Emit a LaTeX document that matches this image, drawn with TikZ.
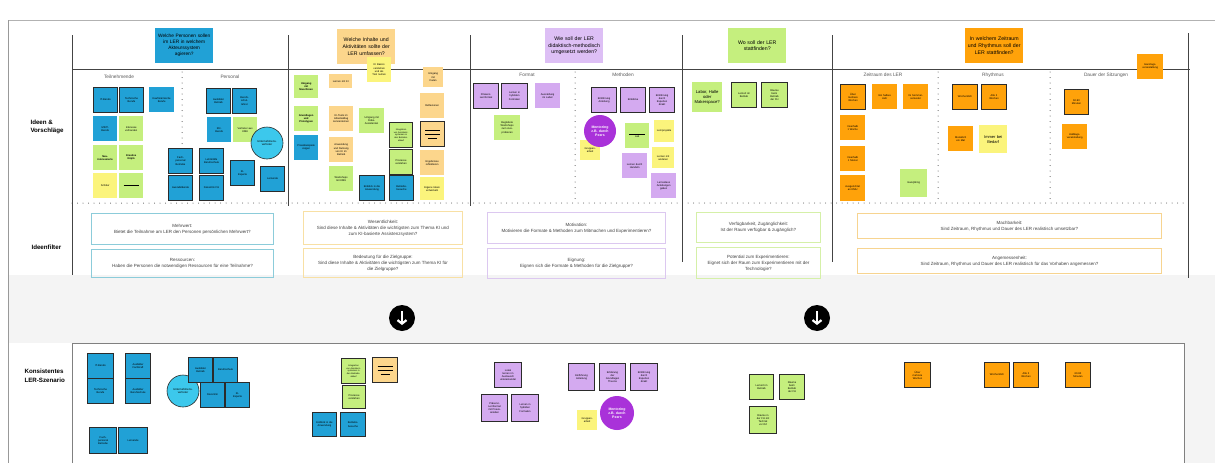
\documentclass[tikz,border=0pt]{standalone}
\usepackage{fontspec}
\setmainfont{Liberation Sans}
\usetikzlibrary{arrows.meta}
\definecolor{ideablue}{HTML}{21A1D6}
\definecolor{ideacyan}{HTML}{3CC8EC}
\definecolor{ideagreen}{HTML}{C5EF7E}
\definecolor{ideayellow}{HTML}{FBF47C}
\definecolor{idealight}{HTML}{FCD68C}
\definecolor{ideaorange}{HTML}{FFA20A}
\definecolor{ideapurple}{HTML}{D4AAF0}
\definecolor{headpurple}{HTML}{DDBFF5}
\definecolor{ideaviolet}{HTML}{A932D9}
\definecolor{noteedge}{HTML}{2B2B2B}
\definecolor{boardgray}{HTML}{444444}
\definecolor{bandgray}{HTML}{F4F4F4}
\definecolor{fblue}{HTML}{8CCCDA}
\definecolor{fsand}{HTML}{F8E0A4}
\definecolor{fpurple}{HTML}{DCC8F0}
\definecolor{fgreen}{HTML}{D5F0A8}
\definecolor{forange}{HTML}{F7D490}
\begin{document}
\begin{tikzpicture}[x=1pt,y=-1pt,
  note/.style={anchor=north west,minimum width=25pt,minimum height=25pt,text width=22pt,inner sep=0.5pt,align=center,font=\fontsize{2.6}{3.1}\selectfont},
  edged/.style={draw=noteedge,line width=1.1pt},
  blob/.style={circle,minimum size=32pt,inner sep=0pt,text width=24pt,align=center,draw=noteedge,line width=0.6pt,font=\fontsize{2.8}{3.3}\selectfont},
  header/.style={anchor=north west,minimum width=58pt,minimum height=35pt,text width=56pt,inner sep=0.5pt,align=center,font=\fontsize{5.2}{6.6}\selectfont},
  filterbox/.style={anchor=north west,line width=0.9pt,inner sep=0.5pt,align=center,font=\fontsize{4.5}{6}\selectfont,text=black!75},
  rowlabel/.style={anchor=west,align=left,font=\fontsize{6.2}{8.5}\selectfont\bfseries},
  sublabel/.style={font=\fontsize{4.8}{6}\selectfont,text=black!65},
  boardline/.style={draw=boardgray,line width=0.9pt},
  divider/.style={draw=boardgray,line width=1pt,dash pattern=on 0pt off 5.5pt,line cap=round}]
\useasboundingbox (0,0) rectangle (1215,463);
\fill[white] (0,0) rectangle (1215,463);
\fill[bandgray] (8,275) rectangle (1215,343);
\fill[bandgray] (1184,343) rectangle (1215,463);
\draw[draw=black!30,line width=0.8pt] (8,20) -- (1215,20);
\draw[draw=black!40,line width=1pt] (8,20) -- (8,463);
% board lines
\draw[boardline] (72,35) -- (72,275);
\draw[boardline] (288,35) -- (288,206);
\draw[boardline] (470,35) -- (470,206);
\draw[boardline] (682,35) -- (682,262);
\draw[boardline] (832,35) -- (832,262);
\draw[boardline] (1188,33) -- (1188,278);
\draw[boardline] (72,69) -- (1190,69);
\draw[divider] (72,203) -- (1188,203);
\draw[divider] (182,72) -- (182,203);
\draw[divider] (575,72) -- (575,203);
\draw[divider] (938,72) -- (938,203);
\draw[divider] (1050,72) -- (1050,203);
\draw[draw=black!50,line width=0.9pt] (72,463) -- (72,343) -- (1184,343) -- (1184,463);

% row labels
\node[rowlabel] (rowIdeas) at (27,127) {Ideen \&\\Vorschläge};
\node[rowlabel] (rowFilter) at (28,247) {Ideenfilter};
\node[rowlabel] (rowScene) at (21,376) {Konsistentes\\LER-Szenario};

% headers
\node[header,fill=ideablue,font=\fontsize{4.8}{6}\selectfont] (hWho) at (155,28) {Welche Personen sollen\\im LER in welchem\\Akteurssystem\\agieren?};
\node[header,fill=idealight] (hWhat) at (337,29) {Welche Inhalte und\\Aktivitäten sollte der\\LER umfassen?};
\node[header,fill=headpurple] (hHow) at (545,28) {Wie soll der LER\\didaktisch-methodisch\\umgesetzt werden?};
\node[header,fill=ideagreen] (hWhere) at (728,28) {Wo soll der LER\\stattfinden?};
\node[header,fill=ideaorange] (hWhen) at (965,28) {In welchem Zeitraum\\und Rhythmus soll der\\LER stattfinden?};

% sub labels
\node[sublabel] (sPart) at (119,77) {Teilnehmende};
\node[sublabel] (sStaff) at (230,77) {Personal};
\node[sublabel] (sFormat) at (527,75) {Format};
\node[sublabel] (sMethod) at (623,75) {Methoden};
\node[sublabel] (sSpan) at (883,75) {Zeitraum des LER};
\node[sublabel] (sRhythm) at (993,75) {Rhythmus};
\node[sublabel] (sLength) at (1106,75) {Dauer der Sitzungen};

% Teilnehmende
\node[note,fill=ideablue,edged,minimum width=24pt] (tn1) at (93,87) {IT-Berufe};
\node[note,fill=ideablue,edged,minimum width=24pt] (tn2) at (119,87) {Technische\\Berufe};
\node[note,fill=ideablue] (tn3) at (149,87) {Kaufmännische\\Berufe};
\node[note,fill=ideablue,minimum width=24pt] (tn4) at (93,116) {MINT-\\Berufe};
\node[note,fill=ideagreen,minimum width=24pt] (tn5) at (119,116) {Interesse\\vorhanden};
\node[note,fill=ideagreen,minimum width=24pt,font=\fontsize{2.6}{3.1}\selectfont\bfseries] (tn6) at (93,145) {Neu-\\interessierte};
\node[note,fill=ideagreen,minimum width=24pt,font=\fontsize{2.6}{3.1}\selectfont\bfseries] (tn7) at (119,145) {Kreative\\Köpfe};
\node[note,fill=ideayellow,minimum width=24pt] (tn8) at (93,173) {Schüler};
\node[note,fill=ideagreen,minimum width=24pt] (tn9) at (119,173) {\rule{15pt}{0.7pt}};
% Personal
\node[note,fill=ideablue,edged,minimum width=24pt] (ps1) at (206,88) {Ausbilder\\Betrieb};
\node[note,fill=ideablue,edged,minimum width=24pt] (ps2) at (232,88) {Berufs-\\schul-\\lehrer};
\node[note,fill=ideablue,minimum width=24pt] (ps3) at (207,117) {Kfz-\\Berufe};
\node[note,fill=ideagreen,minimum width=24pt] (ps4) at (233,117) {Vertreter aus\\KMU};
\node[blob,fill=ideacyan] (ps5) at (267,143) {Unternehmens-\\vertreter};
\node[note,fill=ideablue,edged,minimum width=24pt] (ps6) at (168,148) {Fach-\\personal\\Betriebe};
\node[note,fill=ideablue,edged,minimum width=24pt] (ps7) at (199,148) {Lehrkräfte\\Berufsschule};
\node[note,fill=ideablue,edged,minimum width=24pt] (ps8) at (230,160) {KI-\\Experte};
\node[note,fill=ideablue,edged,minimum width=24pt] (ps9) at (260,166) {Lernende};
\node[note,fill=ideablue,edged,minimum width=24pt] (ps10) at (168,175) {Auszubildende};
\node[note,fill=ideablue,edged,minimum width=24pt] (ps11) at (199,175) {Dozent/in FH};

% Inhalte
\node[note,fill=ideayellow,minimum width=24pt] (ct1) at (367,57) {KI Basics\\verstehen\\und als\\Tool nutzen};
\node[note,fill=ideagreen,minimum width=24pt,minimum height=23pt,font=\fontsize{2.6}{3.1}\selectfont\bfseries] (ct2) at (294,75) {Umgang\\mit\\Maschinen};
\node[note,fill=idealight,minimum width=23pt,minimum height=14pt] (ct3) at (329,74) {Lernen mit KI};
\node[note,fill=idealight,minimum width=20pt,minimum height=20pt,text width=18pt] (ct4) at (423,67) {Umgang\\mit\\Daten};
\node[note,fill=ideagreen,minimum width=24pt,font=\fontsize{2.6}{3.1}\selectfont\bfseries] (ct5) at (294,106) {Grundlagen\\und\\Prototypen};
\node[note,fill=idealight,minimum width=24pt] (ct6) at (329,106) {KI-Tools im\\Arbeitsalltag\\kennenlernen};
\node[note,fill=ideagreen] (ct7) at (359,108) {Umgang mit\\Robo-\\Assistenten};
\node[note,fill=idealight,minimum width=24pt] (ct8) at (420,93) {Reflexionen};
\node[note,fill=ideablue,minimum width=24pt] (ct9) at (294,135) {Praxisbeispiele\\zeigen};
\node[note,fill=idealight,minimum width=24pt] (ct10) at (329,137) {Anwendung\\und Nutzung\\von KI im\\Betrieb};
\node[note,fill=ideagreen,edged,minimum width=23pt,font=\fontsize{2.2}{2.7}\selectfont] (ct11) at (389,122) {Integration\\von Assistenz-\\systemen in\\den Betriebs-\\ablauf};
\node[note,fill=idealight,edged,minimum width=24pt] (ct12) at (420,121) {\rule{15pt}{0.8pt}\\[0.5pt]\rule{15pt}{0.3pt}\\\rule{9pt}{0.3pt}};
\node[note,fill=ideagreen,edged,minimum width=23pt] (ct13) at (389,149) {Prozesse\\verstehen};
\node[note,fill=idealight,minimum width=24pt] (ct14) at (420,150) {Ergebnisse\\reflektieren};
\node[note,fill=ideagreen,minimum width=24pt] (ct15) at (329,166) {Workshops\\mit KMU};
\node[note,fill=ideablue,edged] (ct16) at (359,175) {Einblick in die\\Anwendung};
\node[note,fill=ideablue,edged,minimum width=24pt] (ct17) at (389,175) {Betriebs-\\besuche};
\node[note,fill=ideayellow,minimum width=24pt,minimum height=23pt] (ct18) at (420,177) {Eigene Ideen\\entwickeln};

% Format
\node[note,fill=ideapurple,edged] (fm1) at (473,83) {Präsenz-\\Lernformat};
\node[note,fill=ideapurple,edged,minimum width=26pt] (fm2) at (501,83) {Lernen in\\hybriden\\Formaten};
\node[note,fill=ideapurple] (fm3) at (535,83) {Ausstellung\\im Labor};
\node[note,fill=ideagreen,minimum width=26pt] (fm4) at (494,115) {Begleitete\\Workshops\\zum Aus-\\probieren};
% Methoden
\node[note,fill=ideapurple,edged] (md1) at (591,87) {Einführung\\Anleitung};
\node[note,fill=ideapurple,edged] (md2) at (620,87) {Einblicke};
\node[note,fill=ideapurple,edged] (md3) at (649,87) {Einführung\\durch\\Experten\\direkt};
\node[note,fill=ideayellow,minimum width=20pt,minimum height=20pt,text width=18pt] (md4) at (580,140) {Gruppen-\\arbeit};
\node[blob,fill=ideaviolet,draw=none,font=\fontsize{3.5}{4.2}\selectfont\bfseries,text=white] (md5) at (600,131) {Mentoring\\z.B. durch\\Peers};
\node[note,fill=ideagreen,minimum width=24pt] (md6) at (625,123) {\rule{16pt}{0.8pt}\\Lab};
\node[note,fill=ideayellow,minimum width=20pt,minimum height=22pt,text width=18pt] (md7) at (654,120) {Lernprojekte};
\node[note,fill=ideayellow,minimum width=22pt,minimum height=21pt,text width=19pt] (md8) at (652,147) {Lernen mit\\anderen};
\node[note,fill=ideapurple] (md9) at (622,153) {Lernen durch\\Handeln};
\node[note,fill=ideapurple] (md10) at (651,173) {Lernvideos\\Anleitungen\\geben};

% Ort
\node[note,fill=ideagreen,minimum width=30pt,minimum height=30pt,text width=28pt,font=\fontsize{4.2}{5.2}\selectfont] (pl1) at (692,82) {Labor, Halle\\oder\\Makerspace?};
\node[note,fill=ideagreen,edged] (pl2) at (731,82) {Lernort im\\Betrieb};
\node[note,fill=ideagreen,edged,minimum width=26pt] (pl3) at (761,82) {Räume\\beim\\Betrieb\\der FH};

% Zeitraum
\node[note,fill=ideaorange,edged] (tm1) at (840,84) {Über\\mehrere\\Wochen};
\node[note,fill=ideaorange] (tm2) at (872,84) {Ein halbes\\Jahr};
\node[note,fill=ideaorange] (tm3) at (903,84) {Im Sommer-\\semester};
\node[note,fill=ideaorange] (tm4) at (840,115) {Innerhalb\\1 Woche};
\node[note,fill=ideaorange] (tm5) at (840,146) {Innerhalb\\1 Monat};
\node[note,fill=ideaorange,minimum height=26pt] (tm6) at (840,175) {Ausgerichtet\\an KMU};
\node[note,fill=ideagreen,minimum width=27pt,minimum height=28pt] (tm7) at (900,169) {Ganzjährig};
\node[note,fill=ideaorange,edged] (tm8) at (952,84) {Wöchentlich};
\node[note,fill=ideaorange,edged] (tm9) at (981,84) {Alle 2\\Wochen};
\node[note,fill=ideaorange] (tm10) at (948,126) {Monatlich\\ein Mal};
\node[note,fill=ideayellow,minimum width=28pt,minimum height=28pt,text width=26pt,font=\fontsize{4}{5}\selectfont] (tm11) at (979,125) {Immer bei\\Bedarf};
\node[note,fill=ideaorange,edged,minimum width=24pt] (tm12) at (1064,89) {60-90\\Minuten};
\node[note,fill=ideaorange] (tm13) at (1062,124) {Halbtags-\\veranstaltung};
\node[note,fill=ideaorange,minimum width=26pt] (tm14) at (1137,54) {Ganztags-\\veranstaltung};

% Ideenfilter
\node[filterbox,draw=fblue,minimum width=182pt,minimum height=31pt] (fWorth) at (91,213) {Mehrwert:\\Bietet die Teilnahme am LER den Personen persönlichen Mehrwert?};
\node[filterbox,draw=fblue,minimum width=182pt,minimum height=28pt] (fMeans) at (91,249) {Ressourcen:\\Haben die Personen die notwendigen Ressourcen für eine Teilnahme?};
\node[filterbox,draw=fsand,minimum width=159pt,minimum height=33pt] (fCore) at (303,211) {Wesentlichkeit:\\Sind diese Inhalte \& Aktivitäten die wichtigsten zum Thema KI und\\zum KI-basierte Assistenzsystem?};
\node[filterbox,draw=fsand,minimum width=159pt,minimum height=29pt] (fGroup) at (303,248) {Bedeutung für die Zielgruppe:\\Sind diese Inhalte \& Aktivitäten die wichtigsten zum Thema KI für\\die Zielgruppe?};
\node[filterbox,draw=fpurple,minimum width=178pt,minimum height=31pt] (fDrive) at (487,212) {Motivation:\\Motivieren die Formate \& Methoden zum Mitmachen und Experimentieren?};
\node[filterbox,draw=fpurple,minimum width=178pt,minimum height=30pt] (fFit) at (487,248) {Eignung:\\Eignen sich die Formate \& Methoden für die Zielgruppe?};
\node[filterbox,draw=fgreen,minimum width=124pt,minimum height=30pt] (fAccess) at (696,212) {Verfügbarkeit, Zugänglichkeit:\\Ist der Raum verfügbar \& zugänglich?};
\node[filterbox,draw=fgreen,minimum width=124pt,minimum height=31pt] (fTry) at (696,247) {Potential zum Experimentieren:\\Eignet sich der Raum zum Experimentieren mit der\\Technologie?};
\node[filterbox,draw=forange,minimum width=304pt,minimum height=25pt] (fDo) at (857,213) {Machbarkeit:\\Sind Zeitraum, Rhythmus und Dauer des LER realistisch umsetzbar?};
\node[filterbox,draw=forange,minimum width=304pt,minimum height=25pt] (fMatch) at (857,248) {Angemessenheit:\\Sind Zeitraum, Rhythmus und Dauer des LER realistisch für das Vorhaben angemessen?};

% Pfeile
\node[circle,fill=black,minimum size=26pt,inner sep=0pt] (downA) at (402,318) {};
\node[circle,fill=black,minimum size=26pt,inner sep=0pt] (downB) at (817,318) {};
\draw[white,line width=2.2pt,-{Straight Barb[length=3.5pt,width=9pt]}] ([yshift=7pt]downA.center) -- ([yshift=-7pt]downA.center);
\draw[white,line width=2.2pt,-{Straight Barb[length=3.5pt,width=9pt]}] ([yshift=7pt]downB.center) -- ([yshift=-7pt]downB.center);

% Szenario
\node[note,fill=ideablue,edged,minimum width=26pt] (sc1) at (87,353) {IT-Berufe};
\node[note,fill=ideablue,edged] (sc2) at (125,353) {Ausbilder\\Fachkraft};
\node[note,fill=ideablue,edged,minimum width=26pt] (sc3) at (87,378) {Technische\\Berufe};
\node[note,fill=ideablue,edged] (sc4) at (125,378) {Ausbilder\\Berufsschule};
\node[blob,fill=ideacyan] (sc5) at (183,391) {Unternehmens-\\vertreter};
\node[note,fill=ideablue,edged,minimum width=24pt] (sc6) at (188,357) {Ausbilder\\Betrieb};
\node[note,fill=ideablue,edged,minimum width=24pt] (sc7) at (213,357) {Berufsschule};
\node[note,fill=ideablue,edged,minimum width=24pt] (sc8) at (200,382) {Dozent/in};
\node[note,fill=ideablue,edged,minimum width=24pt] (sc9) at (225,382) {KI-\\Experte};
\node[note,fill=ideablue,edged,minimum width=27pt,minimum height=26pt] (sc10) at (89,427) {Fach-\\personal\\Betriebe};
\node[note,fill=ideablue,edged,minimum width=29pt,minimum height=26pt] (sc11) at (118,427) {Lernende};
\node[note,fill=ideagreen,edged,minimum width=24pt,font=\fontsize{2.2}{2.7}\selectfont] (sc12) at (341,358) {Integration\\von Assistenz-\\systemen in\\den Betriebs-\\ablauf};
\node[note,fill=idealight,edged] (sc13) at (372,357) {\rule{15pt}{0.8pt}\\[0.5pt]\rule{15pt}{0.3pt}\\\rule{9pt}{0.3pt}};
\node[note,fill=ideagreen,edged,minimum width=23pt,minimum height=23pt] (sc14) at (342,385) {Prozesse\\verstehen};
\node[note,fill=ideablue,edged,minimum width=24pt,minimum height=24pt] (sc15) at (312,412) {Einblick in die\\Anwendung};
\node[note,fill=ideablue,edged,minimum height=24pt] (sc16) at (340,412) {Betriebs-\\besuche};
\node[note,fill=ideapurple,edged,minimum width=27pt] (sc17) at (494,362) {Lokal\\lernen im\\Austausch\\untereinander};
\node[note,fill=ideapurple,edged,minimum width=26pt,minimum height=27pt] (sc18) at (481,394) {Präsenz-\\Lernformat\\mit Praxis-\\anteilen};
\node[note,fill=ideapurple,edged,minimum width=27pt,minimum height=27pt] (sc19) at (511,394) {Lernen in\\hybriden\\Formaten};
\node[note,fill=ideapurple,edged,minimum width=26pt,minimum height=27pt] (sc20) at (568,363) {Einführung\\Anleitung};
\node[note,fill=ideapurple,edged,minimum width=26pt,minimum height=27pt] (sc21) at (599,363) {Erklärung\\der\\Grundlagen\\Theorie};
\node[note,fill=ideapurple,edged,minimum width=27pt,minimum height=27pt] (sc22) at (630,363) {Einführung\\durch\\Experten\\direkt};
\node[note,fill=ideayellow,minimum width=20pt,minimum height=20pt,text width=18pt] (sc23) at (577,410) {Gruppen-\\arbeit};
\node[blob,fill=ideaviolet,draw=none,minimum size=34pt,font=\fontsize{3.5}{4.2}\selectfont\bfseries,text=white] (sc24) at (617,413) {Mentoring\\z.B. durch\\Peers};
\node[note,fill=ideagreen,edged,minimum width=24pt] (sc25) at (749,374) {Lernort im\\Betrieb};
\node[note,fill=ideagreen,edged] (sc26) at (779,374) {Räume\\beim\\Betrieb\\der FH};
\node[note,fill=ideagreen,edged,minimum width=27pt,minimum height=27pt] (sc27) at (749,406) {Räume in\\der FH mit\\Technik\\vor Ort};
\node[note,fill=ideaorange,edged,minimum width=26pt] (sc28) at (904,362) {Über\\mehrere\\Wochen};
\node[note,fill=ideaorange,edged] (sc29) at (984,362) {Wöchentlich};
\node[note,fill=ideaorange,edged] (sc30) at (1013,362) {Alle 2\\Wochen};
\node[note,fill=ideaorange,edged] (sc31) at (1065,362) {60-90\\Minuten};
\end{tikzpicture}
\end{document}
